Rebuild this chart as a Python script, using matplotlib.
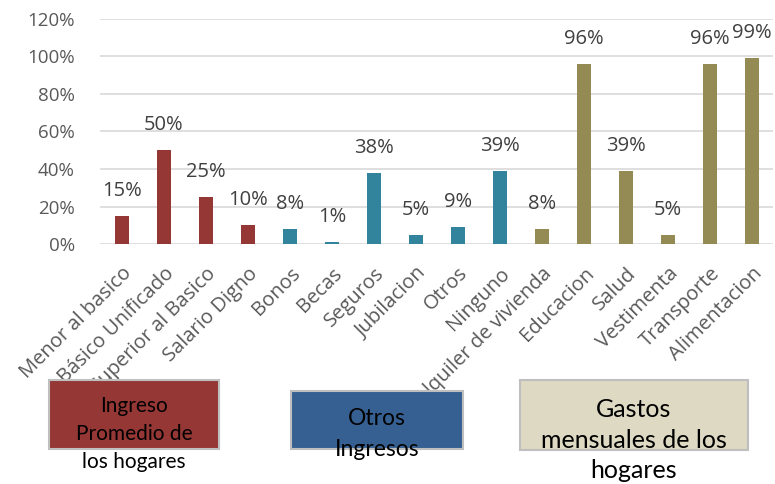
import matplotlib
matplotlib.use("Agg")
import matplotlib.pyplot as plt
from matplotlib.patches import Rectangle

categories = [
    "Menor al basico", "Básico Unificado", "Superior al Basico", "Salario Digno",
    "Bonos", "Becas", "Seguros", "Jubilacion", "Otros", "Ninguno",
    "Alquiler de vivienda", "Educacion", "Salud", "Vestimenta", "Transporte",
    "Alimentacion",
]
values = [15, 50, 25, 10, 8, 1, 38, 5, 9, 39, 8, 96, 39, 5, 96, 99]
groups = [0, 0, 0, 0, 1, 1, 1, 1, 1, 1, 2, 2, 2, 2, 2, 2]
yticks = [0, 20, 40, 60, 80, 100, 120]

bar_colors = ["#953735", "#31849B", "#948A54"]
box_colors = ["#953735", "#376092", "#DDD9C3"]
box_texts = ["Ingreso\nPromedio de\nlos hogares", "Otros\nIngresos",
             "Gastos\nmensuales de los\nhogares"]

plt.rcParams["font.family"] = ["Open Sans", "DejaVu Sans"]

fig = plt.figure(figsize=(7.75, 4.84), dpi=100)
ax = fig.add_axes([100 / 775, 1 - 244 / 484, 673 / 775, 225 / 484])

x = list(range(len(categories)))
ax.bar(x, values, width=0.34, color=[bar_colors[g] for g in groups], zorder=3)
for xi, v in zip(x, values):
    ax.annotate(f"{v}%", (xi, v), xytext=(0, 18), textcoords="offset points",
                ha="center", va="center", fontsize=14.5, color="#404040", zorder=4)

ax.set_xlim(-0.52, 15.5)
ax.set_ylim(0, 120)
ax.set_yticks(yticks)
ax.set_yticklabels([f"{t}%" for t in yticks], fontsize=13.5, color="#595959")
ax.set_xticks(x)
ax.set_xticklabels(categories, rotation=45, ha="right", va="top",
                   rotation_mode="anchor", fontsize=14.5, color="#595959")
ax.tick_params(axis="both", length=0)
ax.tick_params(axis="y", pad=18)
ax.tick_params(axis="x", pad=14)
ax.grid(axis="y", color="#D9D9D9", linewidth=1.2, zorder=0)
for s in ax.spines.values():
    s.set_visible(False)

# legend-like boxes under the chart, drawn in pixel coordinates
boxes = [(49, 380, 170, 69), (291, 391, 172, 58), (520, 380, 228, 70)]
text_y = [434, 434, 440]
sizes = [15, 16.5, 18]
spacing = [1.5, 1.55, 1.4]
for (bx, by, bw, bh), fc, txt, ty, fs, ls in zip(boxes, box_colors, box_texts,
                                                  text_y, sizes, spacing):
    fig.patches.append(Rectangle((bx / 775, 1 - (by + bh) / 484), bw / 775, bh / 484,
                                 transform=fig.transFigure, facecolor=fc,
                                 edgecolor="#BFBFBF", linewidth=1.5, zorder=5))
    fig.text((bx + bw / 2) / 775, 1 - ty / 484, txt, ha="center", va="center",
             fontsize=fs, family=["Lato", "DejaVu Sans"], color="black",
             linespacing=ls, zorder=6)

fig.savefig("out.png", dpi=100)
